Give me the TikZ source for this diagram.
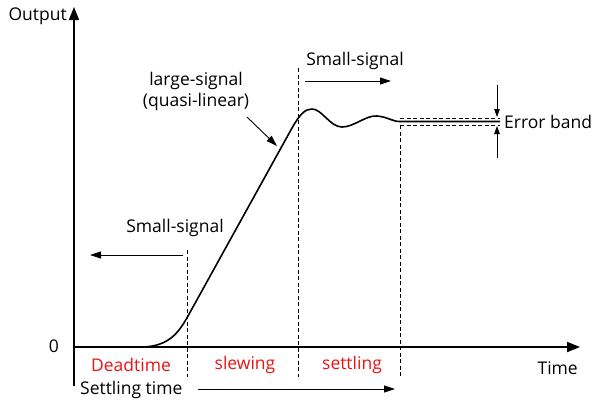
\documentclass[tikz,border=0pt]{standalone}
\usepackage{fontspec}
\setmainfont{Open Sans}
\usetikzlibrary{arrows.meta}
\definecolor{phasered}{RGB}{235,20,20}
\tikzstyle{axis} = [draw,line width=1.8pt,-{Triangle[length=13pt,width=10pt]}]
\tikzstyle{label} = [inner sep=1pt,font=\fontsize{17.5}{21}\selectfont]
\tikzstyle{phase} = [label,text=phasered]
\tikzstyle{pointer} = [draw,line width=0.9pt,-{Triangle[length=11pt,width=7pt]}]
\tikzstyle{small pointer} = [draw,line width=0.8pt,-{Triangle[length=8pt,width=5.5pt]}]
\tikzstyle{marker} = [draw,line width=0.7pt,dash pattern=on 4pt off 2.5pt]
\tikzstyle{response} = [draw,line width=1.6pt,line join=round]

\begin{document}
\begin{tikzpicture}[x=1pt,y=-1pt]
    \useasboundingbox (0,0) rectangle (593,405);
    % First the axes
    \coordinate (o) at (74,347);
    \coordinate (xend) at (580,347);
    \coordinate (ybot) at (74,386);
    \coordinate (ytop) at (74,7);
    \path[axis] (o) -- (xend);
    \path[axis] (ybot) -- (ytop);
    \node[label,anchor=east] (out) at (68,16) {Output};
    \node[label] (zero) at (54,346) {0};
    \node[label,anchor=east] (time) at (579,368) {Time};
    % Dashed markers between the phases
    \foreach \name/\x/\top in {ma/187/250, mb/298/68, mc/400/125} {
        \coordinate (\name top) at (\x,\top);
        \coordinate (\name bot) at (\x,377);
        \path[marker] (\name top) -- (\name bot);
    }
    % Phases
    \foreach \pos/\name/\txt in {{(131,365)/dead/Deadtime}, {(245,365)/slew/slewing}, {(352,365)/settle/settling}}
        \node[phase] (\name) at \pos {\txt};
    % Error band
    \coordinate (bandl) at (400,118);
    \coordinate (bandr) at (500,118);
    \coordinate (bandll) at (400,125);
    \coordinate (bandrr) at (500,125);
    \path[marker] (bandl) -- (bandr);
    \path[marker] (bandll) -- (bandrr);
    \coordinate (ebtop) at (497,85);
    \coordinate (ebtopend) at (497,117);
    \coordinate (ebbot) at (497,158);
    \coordinate (ebbotend) at (497,126);
    \path[small pointer] (ebtop) -- (ebtopend);
    \path[small pointer] (ebbot) -- (ebbotend);
    \node[label,anchor=west] (band) at (503,122) {Error band};
    % The step response
    \path[response] (143,347) .. controls (168,346) and (178,334) .. (188,316)
        -- (292,128) .. controls (300,114) and (305,109) .. (312,109)
        .. controls (322,109) and (330,127) .. (342,127)
        .. controls (354,127) and (366,115) .. (377,116)
        .. controls (388,117) and (392,121.5) .. (400,121.5) -- (500,121.5);
    % Labels with arrows
    \node[label] (ssleft) at (175,228) {Small-signal};
    \coordinate (ssla) at (183,255);
    \coordinate (sslb) at (90,255);
    \path[pointer] (ssla) -- (sslb);
    \node[label] (sstop) at (355,61) {Small-signal};
    \coordinate (ssta) at (305,81);
    \coordinate (sstb) at (391,81);
    \path[pointer] (ssta) -- (sstb);
    \node[label,align=center] (large) at (196,91) {large-signal\\(quasi-linear)};
    \coordinate (lsa) at (247,117);
    \coordinate (lsb) at (277,146);
    \path[pointer] (lsa) -- (lsb);
    \node[label,anchor=west] (settime) at (79,390) {Settling time};
    \coordinate (sta) at (198,389);
    \coordinate (stb) at (395,389);
    \path[pointer] (sta) -- (stb);
\end{tikzpicture}
\end{document}
